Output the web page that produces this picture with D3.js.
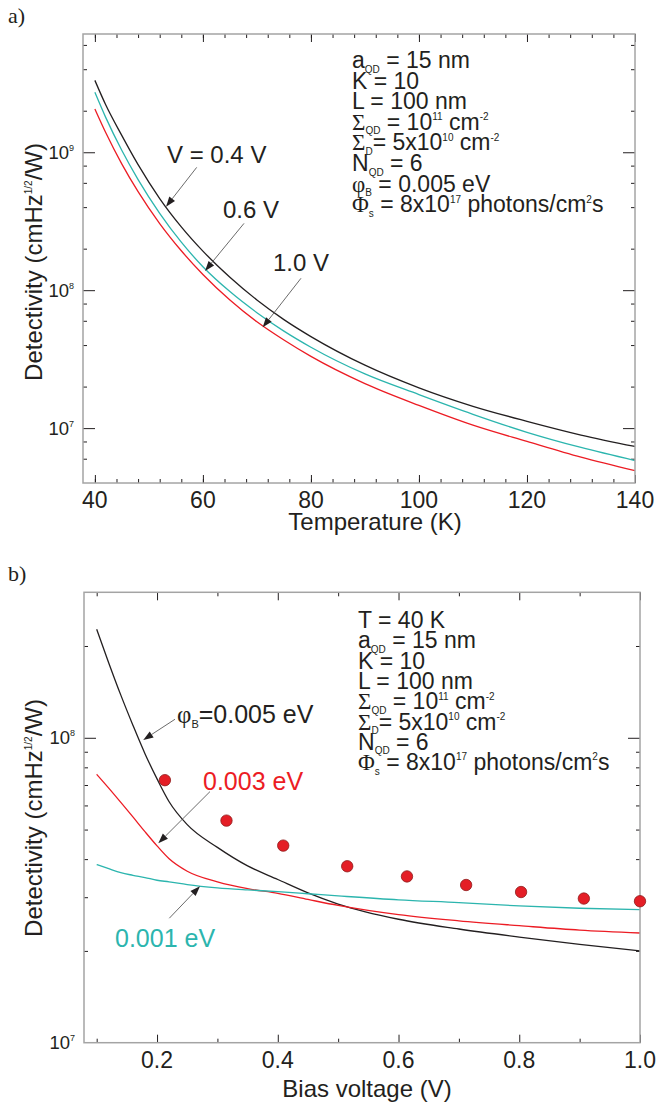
<!DOCTYPE html>
<html>
<head>
<meta charset="utf-8">
<title>Detectivity</title>
<script src="https://cdn.jsdelivr.net/npm/d3@7"></script>
<style>
  * { margin:0; padding:0; }
  body { background:#fff; }
  svg { display:block; font-family: "Liberation Sans", Arial, Helvetica, sans-serif; }
</style>
</head>
<body>
<svg id="chart" width="656" height="1106"></svg>
<script>
// ---- panel a : detectivity vs temperature ----
var tempK  = [40, 42, 45, 48, 52, 56, 60, 65, 70, 75, 80, 90, 100, 110, 120, 130, 140];
var detV04 = [3.32e9, 2.21e9, 1.32e9, 8.13e8, 4.62e8, 2.88e8, 1.92e8, 1.24e8, 8.49e7, 6.12e7, 4.61e7, 2.86e7, 1.96e7, 1.44e7, 1.12e7, 8.91e6, 7.36e6];
var detV06 = [2.72e9, 1.79e9, 1.03e9, 6.34e8, 3.61e8, 2.23e8, 1.48e8, 9.77e7, 6.87e7, 5.05e7, 3.86e7, 2.47e7, 1.75e7, 1.26e7, 9.33e6, 7.24e6, 5.82e6];
var detV10 = [2.06e9, 1.39e9, 8.20e8, 5.18e8, 3.04e8, 1.93e8, 1.30e8, 8.49e7, 5.90e7, 4.35e7, 3.31e7, 2.10e7, 1.46e7, 1.05e7, 8.00e6, 6.15e6, 4.91e6];
var tempTicks = [40, 60, 80, 100, 120, 140];
var tempMinor = d3.range(40, 141, 4);

// ---- panel b : detectivity vs bias voltage ----
var biasV     = [0.10, 0.12, 0.14, 0.16, 0.18, 0.20, 0.22, 0.25, 0.30, 0.35, 0.40, 0.45, 0.50, 0.60, 0.70, 0.80, 0.90, 1.00];
var detPhi005 = [2.27e8, 1.76e8, 1.38e8, 1.10e8, 8.87e7, 7.33e7, 6.17e7, 5.19e7, 4.37e7, 3.80e7, 3.43e7, 3.10e7, 2.85e7, 2.54e7, 2.36e7, 2.22e7, 2.10e7, 2.00e7];
var detPhi003 = [7.59e7, 6.84e7, 6.14e7, 5.50e7, 4.92e7, 4.42e7, 4.01e7, 3.65e7, 3.37e7, 3.20e7, 3.09e7, 2.95e7, 2.82e7, 2.63e7, 2.51e7, 2.42e7, 2.34e7, 2.29e7];
var detPhi001 = [3.84e7, 3.72e7, 3.61e7, 3.54e7, 3.48e7, 3.41e7, 3.37e7, 3.30e7, 3.22e7, 3.17e7, 3.13e7, 3.08e7, 3.03e7, 2.94e7, 2.88e7, 2.81e7, 2.76e7, 2.73e7];
var expBias = [0.213, 0.315, 0.409, 0.515, 0.614, 0.712, 0.803, 0.907, 1.0];
var expDet  = [7.26e7, 5.35e7, 4.43e7, 3.79e7, 3.51e7, 3.29e7, 3.12e7, 2.97e7, 2.91e7];
var biasTicks = [0.2, 0.4, 0.6, 0.8, 1.0];
var biasMinor = [0.1, 0.3, 0.5, 0.7, 0.9];

// parameter text, [text, kind]
var paramsA = [
  [["a"], ["QD", "sub"], [" = 15 nm"]],
  [["K = 10"]],
  [["L = 100 nm"]],
  [["Σ", "sym"], ["QD", "sub"], [" = 10"], ["11", "sup"], [" cm"], ["-2", "sup"]],
  [["Σ", "sym"], ["D", "sub"], ["= 5x10"], ["10", "sup"], [" cm"], ["-2", "sup"]],
  [["N"], ["QD", "sub"], [" = 6"]],
  [["φ", "sym"], ["B", "sub"], [" = 0.005 eV"]],
  [["Φ", "sym"], ["s", "sub"], [" = 8x10"], ["17", "sup"], [" photons/cm"], ["2", "sup"], ["s"]]
];
var paramsB = [[["T = 40 K"]]].concat(paramsA.slice(0, 6), [paramsA[7]]);

var BLACK = "#231f20", CYAN = "#2cb5ae", RED = "#ec1c24";

var svg = d3.select("#chart");

function richText(sel, segs, size) {
  var shift = 0;
  segs.forEach(function(s) {
    var kind = s[1] || "";
    var target = kind === "sub" ? size * 0.2 : kind === "sup" ? -size * 0.42 : 0;
    var t = sel.append("tspan").text(s[0]).attr("dy", target - shift);
    shift = target;
    if (kind === "sub" || kind === "sup") t.attr("font-size", Math.round(size * 0.42));
    if (kind === "sym") t.attr("font-family", "'Liberation Serif', 'Times New Roman', serif");
  });
}

function decadeTicks(mults, decades, dom) {
  var out = [];
  decades.forEach(function(d) { mults.forEach(function(m) { out.push(m * d); }); });
  return out.filter(function(v) { return v > dom[0] * 1.001 && v < dom[1] * 0.999; });
}

function drawPanel(p) {
  var g = svg.append("g");
  var x = d3.scaleLinear().domain(p.xDomain).range([p.left, p.right]);
  var y = d3.scaleLog().domain(p.yDomain).range([p.bottom, p.top]);

  function ticks(axis, tr, vals, size) {
    g.append("g").attr("transform", tr).attr("color", BLACK)
      .call(axis.tickValues(vals).tickSize(size).tickFormat(""))
      .call(function(s) { s.select(".domain").remove(); });
  }
  ticks(d3.axisLeft(y), "translate(" + p.left + ",0)", p.yMajor, -12);
  ticks(d3.axisLeft(y), "translate(" + p.left + ",0)", p.yMinor, -4);
  ticks(d3.axisRight(y), "translate(" + p.right + ",0)", p.yMajor, -12);
  ticks(d3.axisRight(y), "translate(" + p.right + ",0)", p.yMinor, -4);
  ticks(d3.axisBottom(x), "translate(0," + p.bottom + ")", p.xMajor, -8);
  ticks(d3.axisBottom(x), "translate(0," + p.bottom + ")", p.xMinor, -4);
  ticks(d3.axisTop(x), "translate(0," + p.top + ")", p.xMajor, -8);
  ticks(d3.axisTop(x), "translate(0," + p.top + ")", p.xMinor, -4);

  // curves
  var line = d3.line().x(function(d) { return x(d[0]); }).y(function(d) { return y(d[1]); })
    .curve(d3.curveMonotoneX);
  p.series.forEach(function(s) {
    g.append("path").datum(d3.zip(p.xs, s.values))
      .attr("d", line).attr("fill", "none")
      .attr("stroke", s.color).attr("stroke-width", 1.3);
  });

  // frame
  g.append("rect").attr("x", p.left).attr("y", p.top)
    .attr("width", p.right - p.left).attr("height", p.bottom - p.top)
    .attr("fill", "none").attr("stroke", "#a4a4a4").attr("stroke-width", 1.5);

  if (p.points) {
    g.selectAll("circle.pt").data(d3.zip(p.points[0], p.points[1])).enter()
      .append("circle").attr("class", "pt")
      .attr("cx", function(d) { return x(d[0]); })
      .attr("cy", function(d) { return y(d[1]); })
      .attr("r", 5.7).attr("fill", "#e41e26").attr("stroke", "#8e1b1b").attr("stroke-width", 0.8);
  }

  // tick labels
  g.selectAll("text.xl").data(p.xMajor).enter().append("text")
    .attr("x", function(d) { return x(d); }).attr("y", p.bottom + 25)
    .attr("text-anchor", "middle").attr("font-size", 23).attr("fill", BLACK)
    .text(p.xFormat);
  p.yMajor.concat(p.yExtra || []).forEach(function(v) {
    var t = g.append("text").attr("x", p.left - 9).attr("y", y(v) + 6.5)
      .attr("text-anchor", "end").attr("font-size", 18.5).attr("fill", BLACK);
    t.append("tspan").text("10");
    t.append("tspan").text(Math.round(Math.log10(v))).attr("font-size", 9).attr("dy", -8);
  });

  // axis titles
  g.append("text").attr("x", p.xTitleX).attr("y", p.xTitleY).attr("text-anchor", "middle")
    .attr("font-size", 24).attr("fill", BLACK).text(p.xTitle);
  var yt = g.append("text").attr("transform", "translate(42," + p.yTitleY + ") rotate(-90)")
    .attr("text-anchor", "middle").attr("font-size", 24).attr("fill", BLACK);
  richText(yt, [["Detectivity (cmHz"], ["1/2", "sup"], ["/W)"]], 24);

  // panel letter
  g.append("text").attr("x", 8).attr("y", p.letterY).attr("font-size", 22)
    .attr("font-family", "'Liberation Serif', 'Times New Roman', serif").attr("fill", BLACK)
    .text(p.letter);

  // parameter block
  p.params.forEach(function(segs, i) {
    var t = g.append("text").attr("x", p.paramX).attr("y", p.paramY + i * p.paramStep)
      .attr("font-size", 23).attr("fill", BLACK);
    richText(t, segs, 23);
  });

  // arrows and curve labels (positions in data coordinates)
  p.notes.forEach(function(n) {
    var x0 = x(n.from[0]), y0 = y(n.from[1]), x1 = x(n.to[0]), y1 = y(n.to[1]);
    var len = Math.hypot(x1 - x0, y1 - y0), ux = (x1 - x0) / len, uy = (y1 - y0) / len;
    var bx = x1 - ux * 10, by = y1 - uy * 10;
    g.append("line").attr("x1", x0).attr("y1", y0).attr("x2", bx).attr("y2", by)
      .attr("stroke", "#5a5a5a").attr("stroke-width", 0.9);
    g.append("path").attr("fill", BLACK)
      .attr("d", "M" + x1 + "," + y1 + "L" + (bx - uy * 3.6) + "," + (by + ux * 3.6) +
                 "L" + (bx + uy * 3.6) + "," + (by - ux * 3.6) + "Z");
    var t = g.append("text").attr("x", x(n.at[0])).attr("y", y(n.at[1]))
      .attr("font-size", n.size).attr("fill", n.color);
    richText(t, n.label, n.size);
  });
}

var domA = [4.0e6, 7.2e9], domB = [1e7, 3.0e8];

drawPanel({
  left: 83, right: 635, top: 34, bottom: 483,
  xDomain: [37.8, 140], yDomain: domA,
  xs: tempK,
  series: [{ values: detV04, color: BLACK }, { values: detV06, color: CYAN }, { values: detV10, color: RED }],
  xMajor: tempTicks, xMinor: tempMinor,
  yMajor: [1e7, 1e8, 1e9], yMinor: decadeTicks([2, 4, 6, 8], [1e6, 1e7, 1e8, 1e9], domA),
  xFormat: d3.format("d"),
  xTitle: "Temperature (K)", xTitleX: 375, xTitleY: 530,
  yTitleY: 262, letter: "a)", letterY: 23,
  params: paramsA, paramX: 352, paramY: 68, paramStep: 20.6,
  notes: [
    { label: [["V = 0.4 V"]], at: [53.35, 8.35e8], from: [58.85, 7.77e8], to: [53.17, 4.03e8], color: BLACK, size: 24 },
    { label: [["0.6 V"]], at: [63.72, 3.33e8], from: [67.61, 3.05e8], to: [60.39, 1.38e8], color: BLACK, size: 24 },
    { label: [["1.0 V"]], at: [72.98, 1.38e8], from: [78.16, 1.22e8], to: [71.07, 5.38e7], color: BLACK, size: 24 }
  ]
});

drawPanel({
  left: 84, right: 640, top: 592.3, bottom: 1042.7,
  xDomain: [0.079, 1.0], yDomain: domB,
  xs: biasV,
  series: [{ values: detPhi005, color: BLACK }, { values: detPhi003, color: RED }, { values: detPhi001, color: CYAN }],
  points: [expBias, expDet],
  xMajor: biasTicks, xMinor: biasMinor,
  yMajor: [1e8], yExtra: [1e7], yMinor: decadeTicks([2, 3, 4, 5, 6, 7, 8, 9], [1e7, 1e8], domB),
  xFormat: d3.format(".1f"),
  xTitle: "Bias voltage (V)", xTitleX: 367, xTitleY: 1097,
  yTitleY: 818, letter: "b)", letterY: 581,
  params: paramsB, paramX: 358, paramY: 628, paramStep: 20.3,
  notes: [
    { label: [["φ", "sym"], ["B", "sub"], ["=0.005 eV"]], at: [0.233, 1.12e8], from: [0.2297, 1.15e8], to: [0.1772, 9.84e7], color: BLACK, size: 25 },
    { label: [["0.003 eV"]], at: [0.2761, 6.74e7], from: [0.2877, 6.66e7], to: [0.2021, 4.51e7], color: RED, size: 25 },
    { label: [["0.001 eV"]], at: [0.1304, 2.06e7], from: [0.2203, 2.56e7], to: [0.2711, 3.26e7], color: CYAN, size: 25 }
  ]
});
</script>
</body>
</html>
